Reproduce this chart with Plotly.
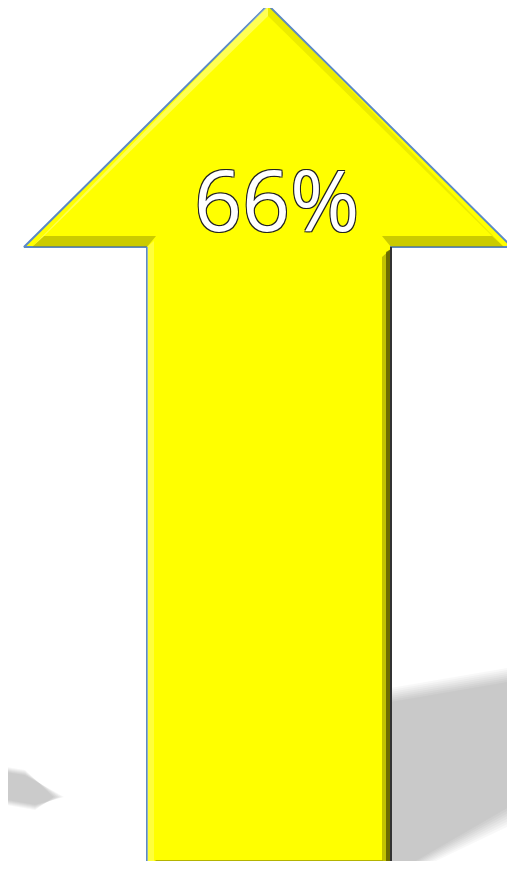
import plotly.graph_objects as go

# data
labels = ["Increase"]
values = [66]

# page body has an 8px margin; size the figure to fit inside it and
# offset the axis ranges so that page pixels map 1:1 onto coordinates
PAGE_W, PAGE_H, PAD = 515, 869, 8
W, H = PAGE_W - 2 * PAD, PAGE_H - 2 * PAD
fig = go.Figure()


def poly(xs, ys, color, line=None):
    fig.add_trace(go.Scatter(x=xs, y=ys, fill="toself", mode="lines",
                             line=line or dict(width=0), fillcolor=color,
                             hoverinfo="skip", showlegend=False))


# soft floor shadows (beneath the arrow), layered for softness
for i in range(8):
    d = 8 - i
    poly([390, 530, 530, 390],
         [704 - d * 2, 680 - d * 2, 792 + d * 3, 875 + d],
         "rgba(0,0,0,0.028)")
for i in range(6):
    d = 6 - i
    poly([-5, 25, 66 - d * 2, 35, -5],
         [771 - d, 776 - d, 797, 804 + d, 797 + d],
         "rgba(0,0,0,0.035)")

# arrow body
tip_x, tip_y = 268, 5
lw, rw, head_y = 24, 512, 247
sl, sr = 147, 391
bottom = PAGE_H + 4
poly([sl, lw, tip_x, rw, sr, sr, sl, sl],
     [head_y, head_y, tip_y, head_y, head_y, bottom, bottom, head_y],
     "#ffff00", line=dict(color="#5b8ac6", width=2))

# bevel shading
poly([382, 391, 391, 382], [257, 249, bottom, bottom], "rgba(120,120,0,0.45)")
poly([386, 391, 391, 386], [252, 249, bottom, bottom], "rgba(40,40,0,0.55)")
poly([147, 391, 382, 156], [869, 869, 860, 860], "rgba(130,130,0,0.6)")
poly([32, 147, 156, 44], [247, 247, 236, 236], "rgba(140,140,0,0.45)")
poly([391, 504, 492, 382], [247, 247, 236, 236], "rgba(140,140,0,0.45)")
poly([147, 154, 154, 147], [247, 241, 862, 869], "rgba(255,255,170,0.35)")
poly([268, 268, 492, 504], [5, 16, 236, 247], "rgba(170,170,0,0.22)")
poly([268, 268, 44, 32], [5, 16, 236, 247], "rgba(255,255,210,0.4)")
fig.add_trace(go.Scatter(x=[sr, sr], y=[head_y, bottom], mode="lines",
                         line=dict(color="#333333", width=2),
                         hoverinfo="skip", showlegend=False))

# label
fig.add_annotation(x=277, y=198, xref="x", yref="y", text=f"{values[0]}%",
                   showarrow=False,
                   font=dict(family="Open Sans, Lato, sans-serif", size=84, color="white",
                             shadow="1px 1px 0 #222, -1px -1px 0 #222, 1px -1px 0 #222, -1px 1px 0 #222"))

fig.update_layout(width=W, height=H, margin=dict(l=0, r=0, t=0, b=0),
                  paper_bgcolor="white", plot_bgcolor="white",
                  xaxis=dict(range=[PAD, PAD + W], visible=False, fixedrange=True),
                  yaxis=dict(range=[PAD + H, PAD], visible=False, fixedrange=True))
fig.write_html("out.html")
